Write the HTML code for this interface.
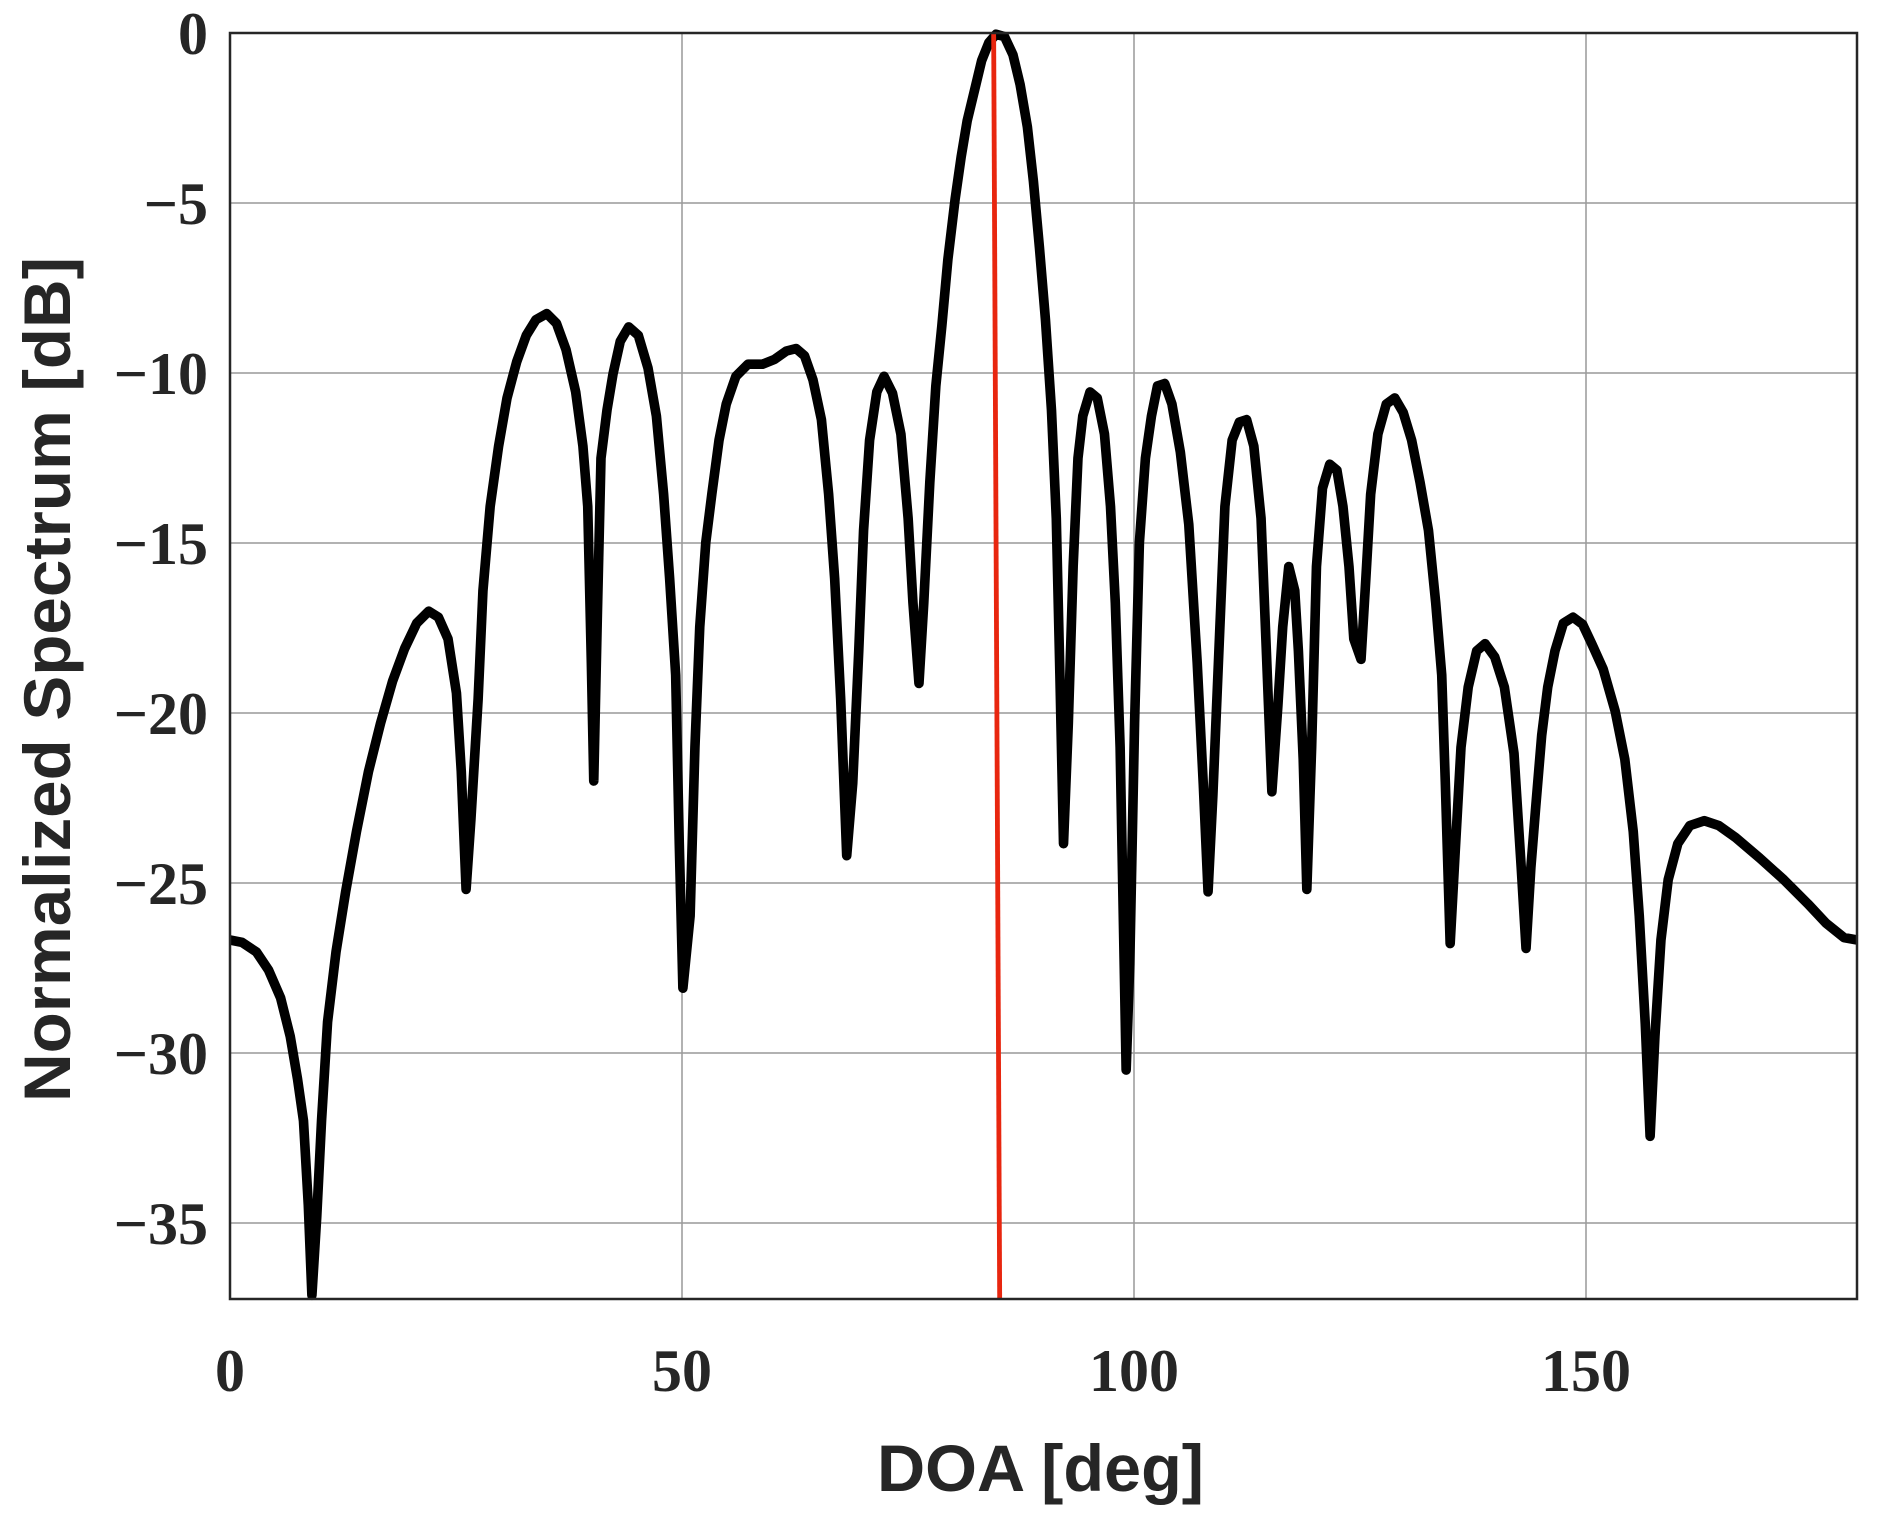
<!DOCTYPE html>
<html><head><meta charset="utf-8"><style>html,body{margin:0;padding:0;background:#fff}svg{display:block}</style></head>
<body>
<svg width="1888" height="1521" viewBox="0 0 1888 1521" xmlns="http://www.w3.org/2000/svg">
<rect width="1888" height="1521" fill="#fff"/>
<g stroke="#999" stroke-width="1.5">
<line x1="230" y1="203" x2="1857" y2="203"/>
<line x1="230" y1="373" x2="1857" y2="373"/>
<line x1="230" y1="543" x2="1857" y2="543"/>
<line x1="230" y1="713" x2="1857" y2="713"/>
<line x1="230" y1="883" x2="1857" y2="883"/>
<line x1="230" y1="1053" x2="1857" y2="1053"/>
<line x1="230" y1="1223" x2="1857" y2="1223"/>
<line x1="682" y1="33" x2="682" y2="1299"/>
<line x1="1134" y1="33" x2="1134" y2="1299"/>
<line x1="1586" y1="33" x2="1586" y2="1299"/>
</g>
<g transform="translate(230,33) scale(1.2045) translate(-190,-27)">
<polyline fill="none" stroke="#000" stroke-width="8" stroke-linejoin="round" points="190,780 200,782 212,790 222,805 232,828 240,860 246,895 251,930 255,1000 258,1075 262,1010 266,930 271,848 278,790 286,740 295,690 305,640 315,600 325,565 335,538 345,517 355,507 363,512 371,530 378,575 382,640 386,738 390,680 396,580 400,490 406,420 413,370 420,330 428,300 436,278 444,265 453,260 461,268 469,290 477,325 483,370 487,420 490,550 492,648 495,510 498,380 503,340 508,310 514,283 521,271 529,278 537,305 544,345 550,410 555,480 560,560 563,700 566,820 572,760 576,620 580,520 585,450 590,410 596,365 602,335 610,312 620,302 632,302 642,298 652,291 660,289 667,295 674,315 681,348 687,410 692,480 697,580 702,710 707,650 712,540 716,440 721,365 727,325 733,312 740,326 747,360 753,430 757,500 762,567 766,500 771,400 776,320 781,270 786,215 792,165 797,130 802,100 808,75 814,50 820,35 826,28 833,30 840,45 846,70 852,105 857,150 862,205 867,265 872,340 876,430 879,560 882,700 886,600 890,470 894,380 898,345 904,325 910,330 916,360 921,420 925,500 929,620 932,780 934,888 937,800 941,600 945,450 950,380 955,345 960,320 966,318 972,335 979,375 986,435 993,550 998,650 1002,740 1006,660 1011,540 1016,420 1022,365 1028,350 1034,348 1040,370 1046,430 1050,530 1055,657 1060,585 1064,520 1069,470 1074,490 1077,540 1081,630 1084,738 1088,620 1092,470 1097,405 1103,385 1109,390 1114,420 1119,470 1123,530 1129,547 1133,480 1137,410 1143,360 1150,335 1157,330 1164,342 1171,365 1178,400 1185,440 1191,500 1196,560 1199,650 1203,783 1207,710 1212,620 1218,570 1225,540 1232,534 1240,545 1248,570 1256,625 1262,720 1266,787 1270,720 1274,670 1279,610 1284,570 1290,540 1297,517 1305,512 1313,518 1321,535 1330,555 1340,590 1348,630 1355,690 1360,760 1365,850 1369,943 1373,860 1378,780 1384,730 1392,700 1402,685 1414,681 1426,685 1440,695 1460,712 1480,730 1500,750 1515,766 1530,778 1541,780"/>
<line x1="824" y1="27" x2="829" y2="1078" stroke="#e8260f" stroke-width="4"/>
</g>
<rect x="230" y="33" width="1627" height="1266" fill="none" stroke="#262626" stroke-width="2.5"/>
<g font-family="'Liberation Serif',serif" font-weight="bold" font-size="60" fill="#262626" text-anchor="end">
<text x="208" y="54">0</text>
<text x="208" y="224">−5</text>
<text x="208" y="394">−10</text>
<text x="208" y="564">−15</text>
<text x="208" y="734">−20</text>
<text x="208" y="904">−25</text>
<text x="208" y="1074">−30</text>
<text x="208" y="1244">−35</text>
</g>
<g font-family="'Liberation Serif',serif" font-weight="bold" font-size="60" fill="#262626" text-anchor="middle">
<text x="230" y="1391">0</text>
<text x="682" y="1391">50</text>
<text x="1134" y="1391">100</text>
<text x="1586" y="1391">150</text>
</g>
<text x="877" y="1491" font-family="'Liberation Sans',sans-serif" font-weight="bold" font-size="66" fill="#262626" textLength="327" lengthAdjust="spacingAndGlyphs">DOA [deg]</text>
<text transform="translate(70,1102) rotate(-90)" font-family="'Liberation Sans',sans-serif" font-weight="bold" font-size="66" fill="#262626" textLength="845" lengthAdjust="spacingAndGlyphs">Normalized Spectrum [dB]</text>
</svg>
</body></html>
